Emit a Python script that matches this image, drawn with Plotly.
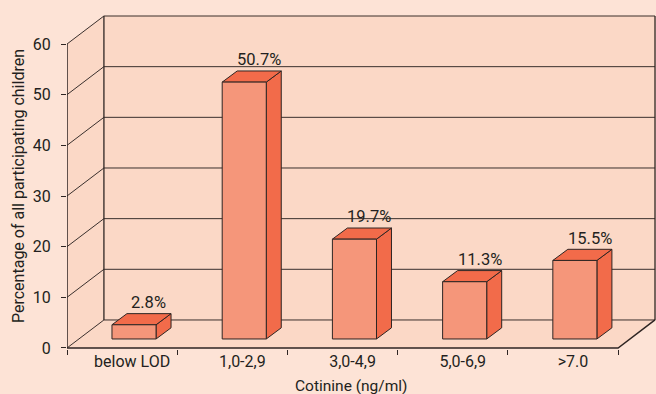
import plotly.graph_objects as go

# Share of children by cotinine level
categories = ["below LOD", "1,0-2,9", "3,0-4,9", "5,0-6,9", ">7.0"]
values = [2.8, 50.7, 19.7, 11.3, 15.5]
y_ticks = [0, 10, 20, 30, 40, 50, 60]

# pseudo-3D geometry (data units)
DX, DY = 0.335, 5.53          # depth of the box
BX, BY = 0.108, 1.78          # bar front offset into the box
BDX, BDY = 0.136, 2.2         # bar depth
HW = 0.2                      # half bar width
X0, X1 = -0.5, len(categories) - 0.5
YMAX = 60

PAPER = "#FDE3D6"
WALL = "#FBD8C6"
EDGE = "#2e2523"
GRID = "#3a302d"
FRONT = "#F5967A"
SIDE = "#F26B4A"
TEXT = "#231f20"
FONT = "Roboto"

fig = go.Figure()


def poly(xs, ys, fill, line_color=EDGE, width=1):
    fig.add_trace(go.Scatter(
        x=xs + [xs[0]], y=ys + [ys[0]], mode="lines", fill="toself",
        fillcolor=fill, line=dict(color=line_color, width=width),
        hoverinfo="skip", showlegend=False))


def seg(xs, ys, color=GRID, width=1):
    fig.add_trace(go.Scatter(
        x=xs, y=ys, mode="lines", line=dict(color=color, width=width),
        hoverinfo="skip", showlegend=False))


# walls and floor
poly([X0 + DX, X1 + DX, X1 + DX, X0 + DX], [DY, DY, YMAX + DY, YMAX + DY], WALL, WALL, 0.1)
poly([X0, X0, X0 + DX, X0 + DX], [0, YMAX, YMAX + DY, DY], WALL, WALL, 0.1)
poly([X0, X1, X1 + DX, X0 + DX], [0, 0, DY, DY], WALL, WALL, 0.1)

# grid lines on back wall and side wall
for v in y_ticks:
    seg([X0, X0 + DX, X1 + DX], [v, v + DY, v + DY])

# frame of the box
seg([X0 + DX, X0 + DX], [DY, YMAX + DY], EDGE, 1.3)
seg([X1 + DX, X1 + DX], [DY, YMAX + DY], EDGE, 1.3)
seg([X0, X0], [0, YMAX], EDGE, 1.5)
seg([X0, X1, X1 + DX], [0, 0, DY], EDGE, 1.5)

# bars
for i, v in enumerate(values):
    xc = i + BX
    l, r = xc - HW, xc + HW
    b, t = BY, BY + v
    poly([r, r + BDX, r + BDX, r], [b, b + BDY, t + BDY, t], SIDE)
    poly([l, r, r + BDX, l + BDX], [t, t, t + BDY, t + BDY], SIDE)
    poly([l, r, r, l], [b, b, t, t], FRONT)
    fig.add_annotation(x=xc + 0.135, y=t + BDY + 2.2, text=f"{v}%",
                       showarrow=False, yanchor="middle", xanchor="center",
                       font=dict(family=FONT, size=16.5, color=TEXT))

fig.add_annotation(xref="paper", yref="paper", x=-49 / 589, y=0.5 - 4 / 334,
                   xanchor="center", yanchor="middle",
                   text="Percentage of all participating children",
                   textangle=-90, showarrow=False,
                   font=dict(family=FONT, size=16, color=TEXT))
fig.add_annotation(xref="paper", yref="paper", x=(351 - 67) / 589, y=-37 / 334,
                   xanchor="center", yanchor="middle",
                   text="Cotinine (ng/ml)", showarrow=False,
                   font=dict(family=FONT, size=15.5, color=TEXT))

fig.update_layout(
    width=656, height=394,
    margin=dict(l=67, r=0, t=15, b=45),
    paper_bgcolor=PAPER, plot_bgcolor=PAPER,
    xaxis=dict(
        range=[X0, X1 + DX + 0.009], showgrid=False, zeroline=False,
        showline=False, tickmode="array",
        tickvals=list(range(len(categories))), ticktext=categories,
        ticks="", ticklabelshift=10, ticklabelstandoff=1,
        tickfont=dict(family=FONT, size=16, color=TEXT),
        minor=dict(tickvals=[i - 0.5 for i in range(len(categories) + 1)],
                   ticks="outside", ticklen=5, tickcolor=EDGE, tickwidth=1),
    ),
    yaxis=dict(
        range=[-0.2, YMAX + DY + 0.2], showgrid=False, zeroline=False,
        showline=False, tickmode="array", tickvals=y_ticks,
        ticks="outside", ticklen=5, tickcolor=EDGE, ticklabelstandoff=7,
        tickfont=dict(family=FONT, size=16, color=TEXT),
    ),
)

fig.write_html("out.html")
